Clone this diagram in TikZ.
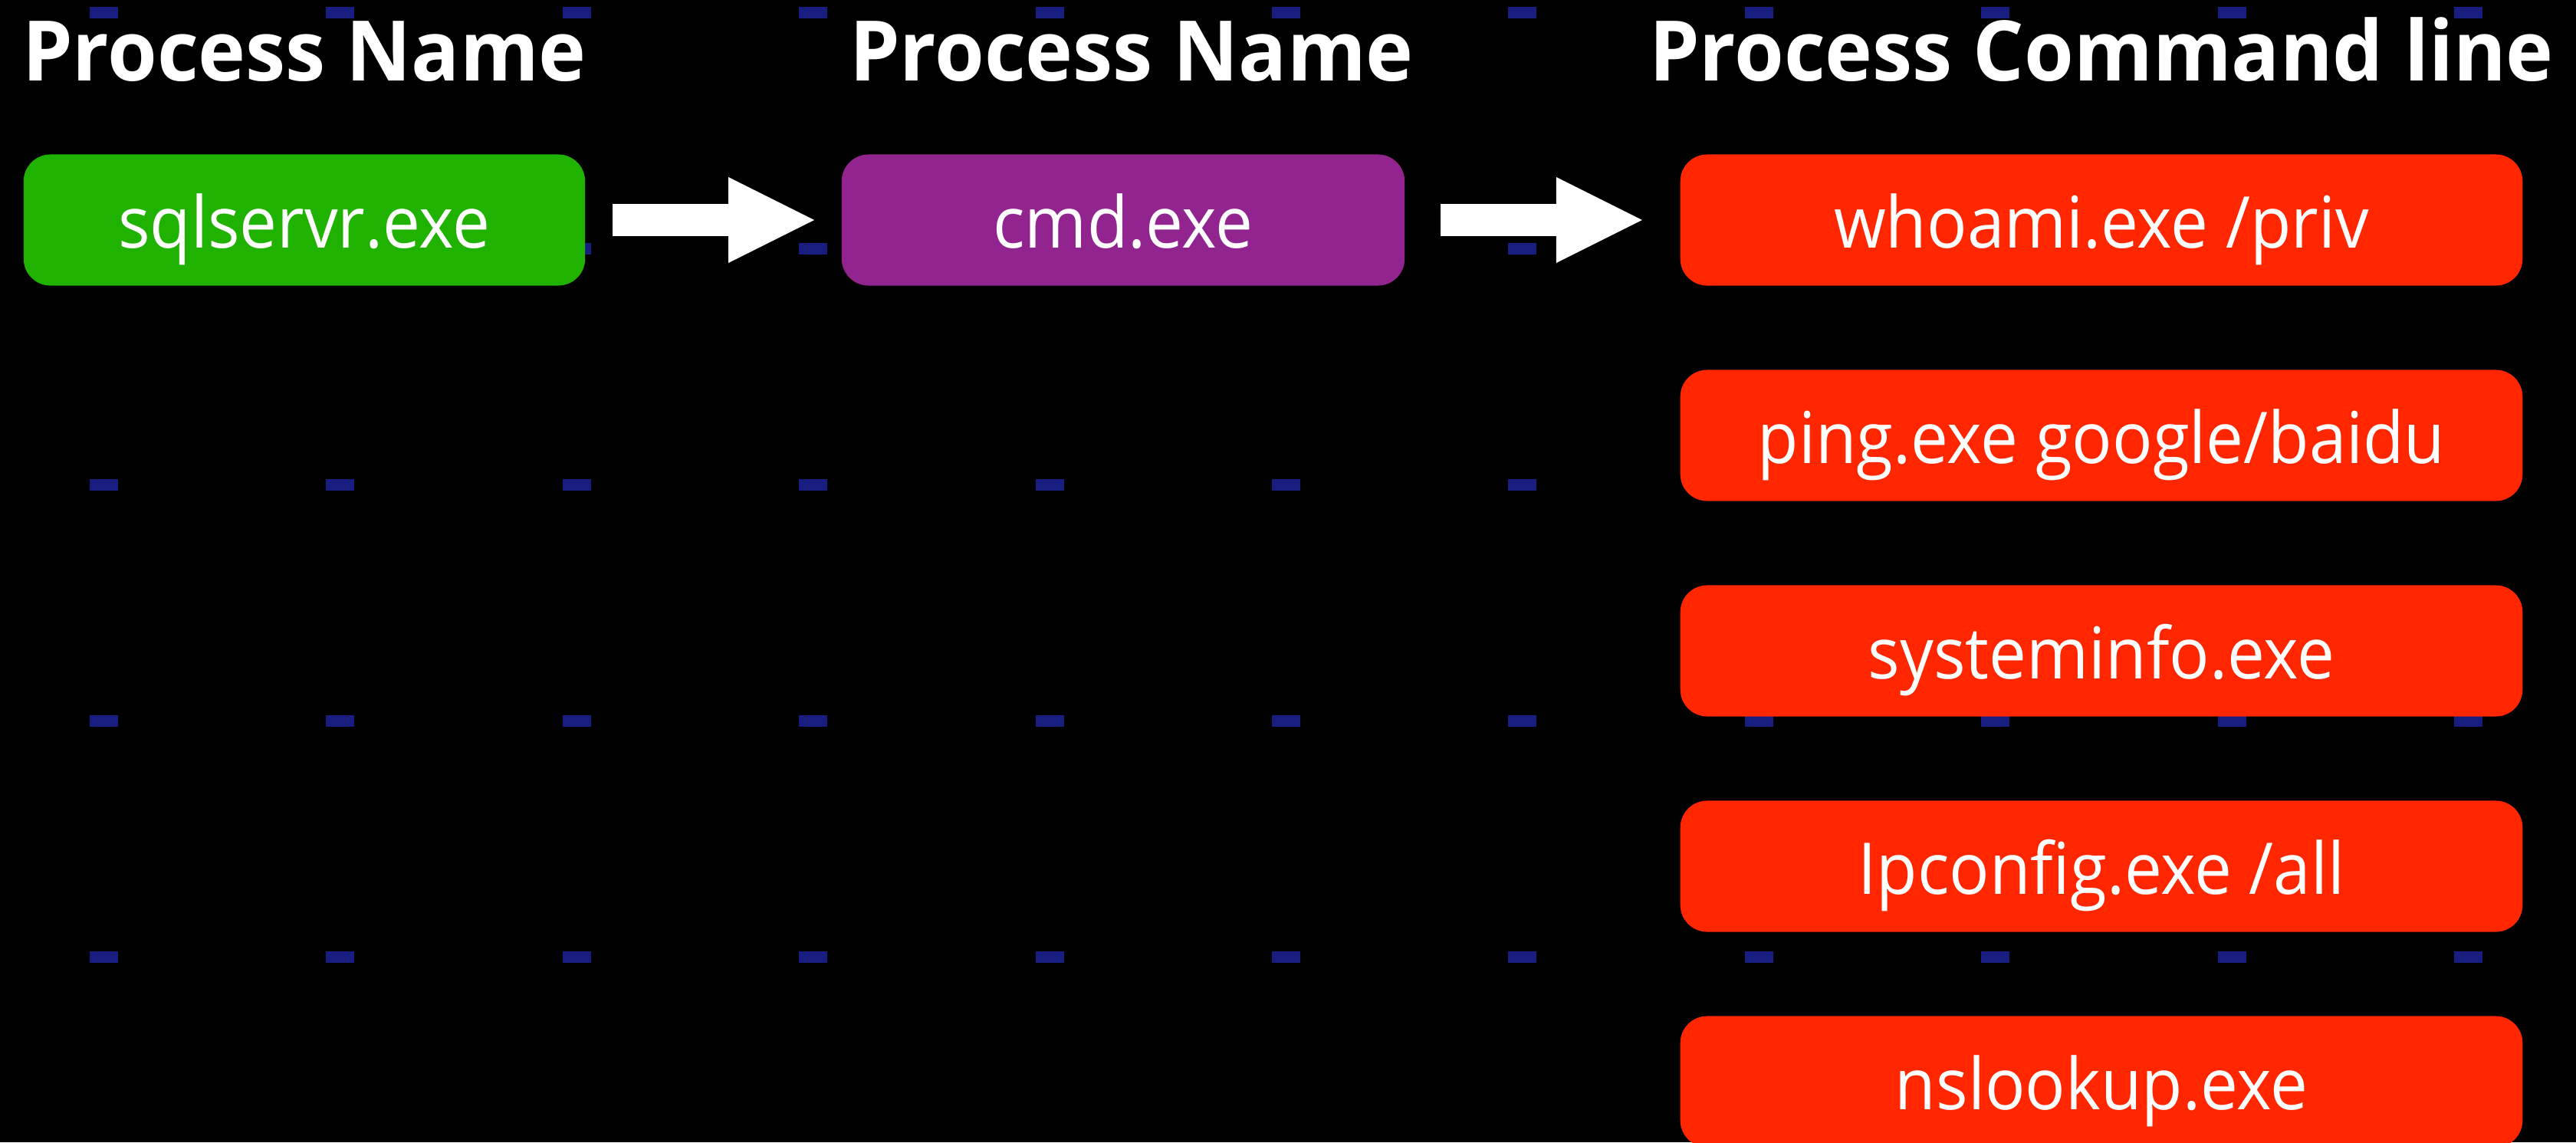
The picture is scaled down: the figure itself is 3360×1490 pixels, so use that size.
\documentclass[tikz,border=0pt]{standalone}
\usepackage{fontspec}
\setmainfont{Open Sans}
\newfontfamily\fonteproc{Open Sans}[FakeStretch=0.935]
\newfontfamily\fontetitulo{Open Sans}[FakeStretch=0.96]
\usepackage{xcolor}
\usetikzlibrary{arrows.meta, positioning}

\definecolor{verdeproc}{RGB}{31,178,0}
\definecolor{roxoproc}{RGB}{146,36,144}
\definecolor{vermproc}{RGB}{255,38,0}
\definecolor{azulponto}{RGB}{24,30,128}

\tikzset{
  proc/.style={rectangle, rounded corners=0.35cm, minimum height=1.71cm, inner sep=0pt,
    text=white, font=\fonteproc\fontsize{26.5}{30}\selectfont, text height=1.0cm, text depth=0.28cm},
  titulo/.style={text=white, font=\fontetitulo\fontsize{31}{36}\selectfont\bfseries, anchor=base, inner sep=0pt},
  seta/.style={draw=white, line width=0.42cm, shorten <=0.35cm, shorten >=0.35cm,
    -{Triangle[length=1.12cm, width=1.12cm, line width=0pt]}},
}

\begin{document}
\begin{tikzpicture}[x=0.01cm, y=-0.01cm]
        % Fundo
        \fill[black] (0,0) rectangle (3360,1490);
        \useasboundingbox (0,0) rectangle (3360,1490);
        \clip (0,0) rectangle (3360,1490);
        \foreach \i in {0,...,10}
            \foreach \j in {0,...,4}
                \fill[azulponto] (117+308.4*\i,9+308*\j) rectangle ++(37,15);

        % Processos
        \node[titulo] (t1) at (397,105) {Process Name};
        \node[titulo] (t2) at (1476,105) {Process Name};
        \node[titulo] (t3) at (2741,105) {Process Command line};
        \node[proc, fill=verdeproc, minimum width=7.32cm] (sql) at (397,287) {sqlservr.exe};
        \node[proc, fill=roxoproc, minimum width=7.34cm] (cmd) at (1465,287) {cmd.exe};
        \draw[seta] (sql) -- (cmd);

        % Linhas de comando
        \foreach \c [count=\k from 0] in {whoami.exe /priv, ping.exe google/baidu,
            systeminfo.exe, Ipconfig.exe /all, nslookup.exe}
            \node[proc, fill=vermproc, minimum width=10.98cm] (c\k) at (2741,287+281*\k) {\c};
        \draw[seta, shorten <=0.46cm, shorten >=0.49cm] (cmd) -- (c0);
    \end{tikzpicture}
\end{document}
